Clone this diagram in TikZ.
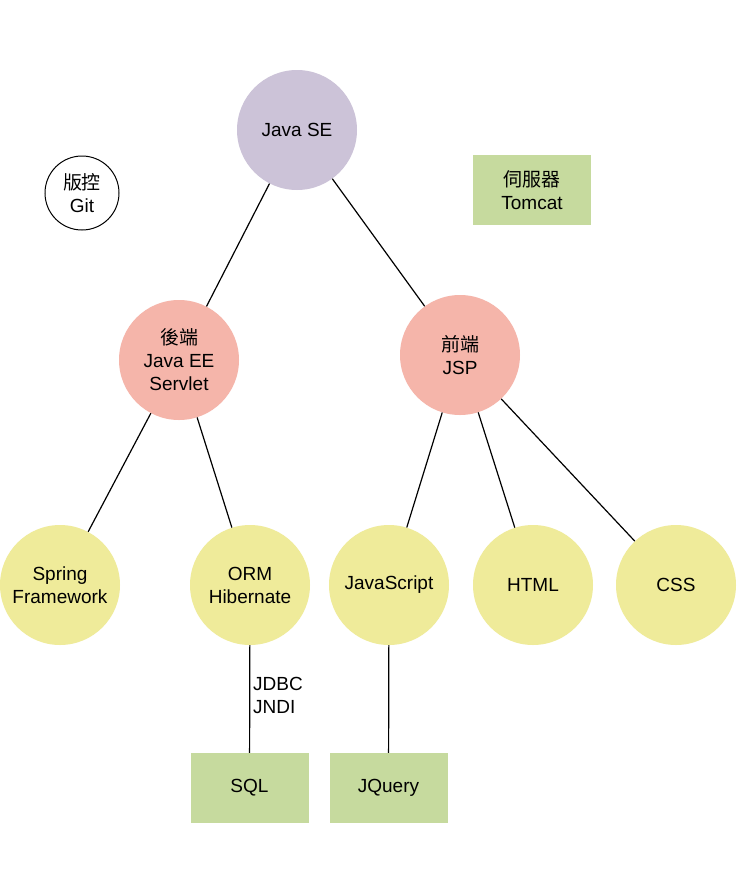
\documentclass[tikz,border=0pt]{standalone}
\usepackage{fontspec}
\setmainfont{Liberation Sans}
\newfontfamily\cjk{Noto Sans CJK TC}
\begin{document}
\begin{tikzpicture}[x=1pt,y=-1pt,
  every node/.style={font=\fontsize{19}{23}\selectfont,align=center,inner sep=0pt},
  circ/.style={circle,minimum size=#1*2pt,draw=none},
  se/.style={circ=60,fill=lav},
  mid/.style={circ=60,fill=pinkc},
  leaf/.style={circ=60,fill=yel},
  box/.style={rectangle,fill=grn,minimum width=118pt,minimum height=70pt},
  edge/.style={draw=black,line width=1.2pt}]
\definecolor{lav}{HTML}{CCC3D8}
\definecolor{pinkc}{HTML}{F5B5AA}
\definecolor{yel}{HTML}{EFEB9A}
\definecolor{grn}{HTML}{C6DA9E}
\useasboundingbox[fill=white] (0,0) rectangle (740,887);
\node[se] (se) at (297,130) {Java SE};
\node[circle,draw=black,line width=1pt,minimum size=74pt] (git) at (82,193) {{\cjk 版控}\\Git};
\node[box] (tom) at (532,190) {{\cjk 伺服器}\\Tomcat};
\node[mid] (ee) at (179,360) {{\cjk 後端}\\Java EE\\Servlet};
\node[mid] (jsp) at (460,355) {{\cjk 前端}\\JSP};
\node[leaf] (spr) at (60,585) {Spring\\Framework};
\node[leaf] (orm) at (250,585) {ORM\\Hibernate};
\node[leaf] (js) at (389,585) {JavaScript};
\node[leaf] (html) at (533,585) {HTML};
\node[leaf] (css) at (676,585) {CSS};
\node[box] (sql) at (249.5,788) {SQL};
\node[box] (jq) at (388.5,788) {JQuery};
\draw[edge] (se) -- (ee);
\draw[edge] (se) -- (jsp);
\draw[edge] (ee) -- (spr);
\draw[edge] (ee) -- (orm);
\draw[edge] (jsp) -- (js);
\draw[edge] (jsp) -- (html);
\draw[edge] (jsp) -- (css);
\draw[edge] (orm) -- (sql);
\draw[edge] (js) -- (jq);
\node[anchor=west,align=left] (jd) at (253,695) {JDBC\\JNDI};
\end{tikzpicture}
\end{document}
